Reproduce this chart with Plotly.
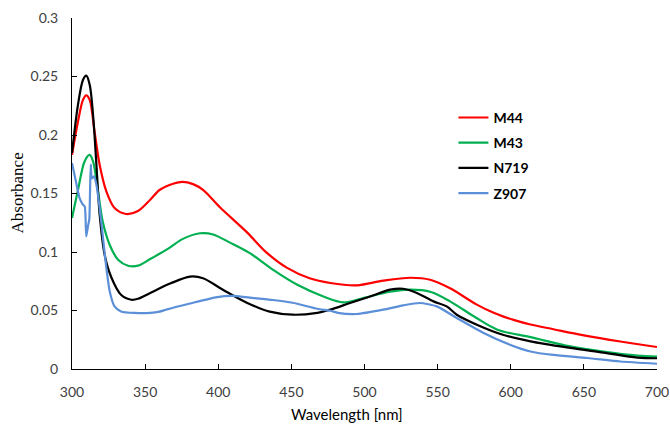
import plotly.graph_objects as go

# ---------------- data ----------------
wl_m44 = [300, 304.1, 307.5, 309.75, 312.1, 315.4, 318.9, 323.5, 329.1, 337.1, 345.1,
          353.5, 359.8, 367.1, 375.5, 382.8, 389.6, 401.3, 419.5, 433.1, 446.8, 462.5,
          476.6, 494.8, 512.8, 531.3, 544.9, 558.5, 576.8, 588.3, 594.6, 601.9, 613.5,
          629.2, 649.1, 674.9, 700]
abs_m44 = [0.183, 0.2116, 0.230, 0.2339, 0.230, 0.203, 0.1746, 0.1518, 0.1376, 0.1325, 0.135,
           0.1447, 0.153, 0.1575, 0.160, 0.158, 0.153, 0.138, 0.117, 0.0994, 0.0866, 0.0775,
           0.0735, 0.0715, 0.0755, 0.078, 0.0763, 0.069, 0.055, 0.048, 0.045, 0.042, 0.038,
           0.034, 0.029, 0.0235, 0.0188]

wl_m43 = [300, 304.1, 308.6, 312.1, 314.4, 317.8, 321.0, 325.8, 331.5, 338.3, 345.1,
          353.5, 359.8, 367.1, 375.5, 387.5, 396.5, 408.0, 421.6, 437.3, 454.1, 471.9,
          485.5, 499.2, 517.4, 531.1, 545.4, 558.5, 576.3, 590.9, 613.5, 640.7, 663.3,
          686.6, 700]
abs_m43 = [0.129, 0.153, 0.1774, 0.183, 0.1774, 0.152, 0.126, 0.106, 0.0934, 0.0883, 0.0883,
           0.094, 0.0985, 0.104, 0.111, 0.116, 0.115, 0.108, 0.099, 0.085, 0.072, 0.062,
           0.057, 0.0607, 0.066, 0.0678, 0.0658, 0.0578, 0.0438, 0.0336, 0.0272, 0.0193, 0.0148,
           0.0114, 0.0105]

wl_n719 = [300, 304.1, 307.5, 309.75, 312.1, 314.4, 316.7, 318.9, 322.3, 327.0, 333.5,
           340.6, 345.1, 353.5, 367.1, 380.7, 389.6, 403.2, 419.5, 435.2, 450.9, 467.7,
           476.6, 490.1, 503.9, 517.5, 526.4, 535.8, 547.2, 556.2, 563.1, 576.8, 594.6,
           613.5, 640.7, 663.3, 686.6, 700]
abs_n719 = [0.1846, 0.226, 0.247, 0.2507, 0.243, 0.217, 0.1746, 0.132, 0.0977, 0.078, 0.0635,
            0.0592, 0.060, 0.065, 0.073, 0.079, 0.0776, 0.0677, 0.0567, 0.049, 0.0464, 0.048,
            0.0507, 0.0564, 0.062, 0.0678, 0.0686, 0.065, 0.0578, 0.0535, 0.0464, 0.0379, 0.0293,
            0.0236, 0.018, 0.014, 0.0097, 0.0092]

wl_z907 = [300, 302.9, 305.2, 307.5, 308.7, 309.75, 310.9, 311.8, 312.8, 313.6, 315.1,
           316.7, 318.9, 321.2, 323.5, 325.8, 329.1, 333.5, 342.9, 353.5, 359.8, 365.0,
           380.7, 399.2, 410.2, 421.6, 437.3, 450.9, 467.7, 476.6, 481.8, 494.8, 512.8,
           526.4, 537.9, 549.4, 563.1, 581.4, 599.4, 613.5, 629.0, 652.4, 674.9, 700]
abs_z907 = [0.176, 0.159, 0.146, 0.1404, 0.139, 0.1133, 0.122, 0.1276, 0.1746, 0.163, 0.1646,
            0.1575, 0.1376, 0.112, 0.0863, 0.0663, 0.0535, 0.0492, 0.0479, 0.048, 0.049, 0.051,
            0.056, 0.0615, 0.0625, 0.061, 0.059, 0.0566, 0.0515, 0.0498, 0.048, 0.047, 0.0507,
            0.0544, 0.0564, 0.0535, 0.0436, 0.0308, 0.0208, 0.015, 0.012, 0.0094, 0.0064, 0.0045]

series_names = ["M44", "M43", "N719", "Z907"]
series_colors = ["#FF0000", "#00B050", "#000000", "#5B8FD8"]
series_smoothing = [0.9, 0.9, 0.9, 0.6]

x_ticks = [300, 350, 400, 450, 500, 550, 600, 650, 700]
y_ticks = [0, 0.05, 0.1, 0.15, 0.2, 0.25, 0.3]
y_tick_labels = ["0", "0.05", "0.1", "0.15", "0.2", "0.25", "0.3"]

x_title = "Wavelength [nm]"
y_title = "Absorbance"

# ---------------- figure ----------------
fig = go.Figure()
data = [(wl_m44, abs_m44), (wl_m43, abs_m43), (wl_n719, abs_n719), (wl_z907, abs_z907)]
for (xs, ys), name, col, sm in zip(data, series_names, series_colors, series_smoothing):
    fig.add_trace(go.Scatter(
        x=xs, y=ys, name=name, mode="lines",
        line=dict(color=col, width=2.2, shape="spline", smoothing=sm),
        legendgroup=name,
    ))

sans = "Lato, 'Open Sans', sans-serif"
serif = "'Liberation Serif', 'Times New Roman', serif"

fig.update_layout(
    width=670, height=426,
    margin=dict(l=72, r=13, t=18, b=57, autoexpand=False),
    paper_bgcolor="white", plot_bgcolor="white",
    font=dict(family=sans, color="#404040", size=14),
    showlegend=True,
    legend=dict(
        x=0.652, y=0.761, xanchor="left", yanchor="top",
        bgcolor="rgba(0,0,0,0)",
        font=dict(family=sans, size=14, color="#000000", weight="bold"),
        traceorder="grouped", tracegroupgap=4,
        itemwidth=30,
    ),
    xaxis=dict(
        range=[300, 700], tickvals=x_ticks, automargin=False,
        showgrid=False, zeroline=False,
        showline=True, linecolor="#000000", linewidth=1,
        ticks="inside", ticklen=5, tickcolor="#000000",
        tickfont=dict(family=sans, size=14, color="#404040"),
        ticklabelstandoff=10,
    ),
    yaxis=dict(
        range=[0, 0.3], tickvals=y_ticks, ticktext=y_tick_labels, automargin=False,
        showgrid=False, zeroline=False,
        showline=True, linecolor="#000000", linewidth=1,
        ticks="inside", ticklen=5, tickcolor="#000000",
        tickfont=dict(family=sans, size=14, color="#404040"),
        ticklabelstandoff=10,
    ),
    annotations=[
        dict(text=x_title, xref="paper", yref="paper", x=0.47, y=-0.157,
             xanchor="center", yanchor="bottom", showarrow=False, borderpad=0,
             font=dict(family=sans, size=15, color="#000000")),
        dict(text=y_title, xref="paper", yref="paper", x=-0.094, y=0.5,
             xanchor="center", yanchor="middle", showarrow=False, textangle=-90,
             font=dict(family=serif, size=17, color="#000000")),
    ],
)

fig.write_html("out.html", config={"displayModeBar": False},
               post_script="document.body.style.margin='0';")
